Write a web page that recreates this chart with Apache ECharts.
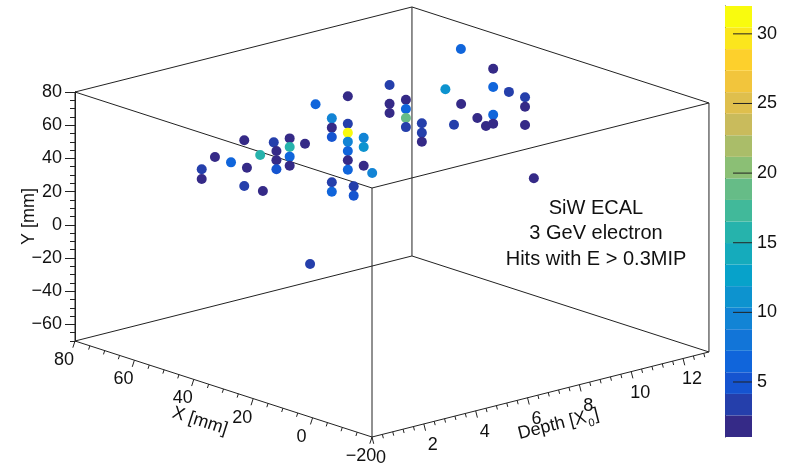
<!DOCTYPE html>
<html>
<head>
<meta charset="utf-8">
<script src="https://cdn.jsdelivr.net/npm/echarts@6/dist/echarts.min.js"></script>
<style>
  html, body { margin: 0; padding: 0; background: #fff; }
  #chart { width: 789px; height: 466px; }
</style>
</head>
<body>
<div id="chart"></div>
<script>
// hits: X [mm], Y [mm], depth [X0], energy [MIP]
const HIT_X = [41.7, 41.7, 41.6, 36.2, 36.1, 35.2, 36.1, 35.1, 34.2, 34.9, 34.0, 34.0, 34.0,
  33.9, 33.9, 33.9, 33.9, 33.1, 47.0, 32.8, 32.8, 32.8, 32.8, 32.8, 40.5, 40.5, 40.5, 40.5,
  40.5, 40.5, 40.5, 29.8, 29.8, 30.8, 30.8, 30.8, 32.3, 43.9, 43.9, 43.9, 38.4, 38.4, 38.4,
  38.4, 37.4, 37.4, 37.4, 54.8, 38.2, 32.9, 35.3, 31.8, 28.9, 35.2, 35.2, 35.2, 35.2, 29.9,
  33.2, 33.2, 33.2, 34.6, 18.3]
const HIT_Y = [53.6, 47.8, 59.1, 59.0, 70.4, 54.4, 42.8, 60.1, 39.0, 65.9, 61.2, 55.6, 50.2,
  66.9, 61.7, 55.9, 50.4, 62.2, 70.0, 73.7, 68.1, 62.5, 35.2, 29.5, 76.6, 60.1, 54.7, 49.3,
  43.7, 38.1, 32.4, 32.5, 26.9, 59.2, 53.6, 42.4, 35.2, 73.6, 62.3, 56.7, 67.9, 62.3, 56.9,
  51.4, 52.3, 46.6, 41.2, 73.2, 68.4, 62.6, 48.7, 52.8, 49.7, 76.6, 65.6, 48.9, 43.5, 65.7,
  56.6, 50.9, 39.9, 5.0, 4.2]
const HIT_D = [0.5, 0.5, 1.0, 1.0, 1.5, 1.5, 1.5, 2.0, 2.0, 2.5, 2.5, 2.5, 2.5,
  3.0, 3.0, 3.0, 3.0, 3.5, 5.5, 4.5, 4.5, 4.5, 4.5, 4.5, 6.0, 6.0, 6.0, 6.0,
  6.0, 6.0, 6.0, 5.0, 5.0, 5.5, 5.5, 5.5, 6.0, 8.0, 8.0, 8.0, 8.0, 8.0, 8.0,
  8.0, 8.5, 8.5, 8.5, 12.0, 9.5, 9.5, 9.5, 10.0, 10.0, 11.0, 11.0, 11.0, 11.0, 11.0,
  12.0, 12.0, 12.0, 12.5, 2.0]
const HIT_E = [3.5, 1.8, 1.9, 6.0, 1.8, 1.9, 4.0, 16.2, 1.7, 3.4, 1.8, 2.0, 5.2,
  1.8, 15.5, 6.6, 1.9, 1.8, 7.0, 9.2, 1.8, 5.0, 3.8, 6.4, 1.8, 3.6, 31.5, 9.6,
  7.0, 1.9, 6.2, 3.8, 5.6, 9.3, 11.0, 1.8, 10.0, 3.4, 2.4, 2.4, 1.8, 7.0, 18.8,
  3.4, 3.4, 4.0, 1.8, 7.0, 10.5, 1.8, 3.5, 1.8, 1.9, 1.8, 7.0, 7.0, 1.9, 4.0,
  3.4, 2.5, 1.8, 1.8, 3.0]

const X_RANGE = [-20, 80]
const Y_RANGE = [-70, 80]
const D_RANGE = [0, 13]
const X_TICKS = [-20, 0, 20, 40, 60, 80]
const Y_TICKS = [-60, -40, -20, 0, 20, 40, 60, 80]
const D_TICKS = [0, 2, 4, 6, 8, 10, 12]
const Z_TICKS = [5, 10, 15, 20, 25, 30]
const Z_MIN = 1.05
const Z_MAX = 32
const N_CONTOURS = 20
const INFO_LINES = ['SiW ECAL', '3 GeV electron', 'Hits with E > 0.3MIP']

// screen projection of the 3D box (parallel projection)
const ORIGIN = [372, 437] // X=-20, Y=-70, depth=0
const PX_X = [-2.97, -0.96] // per mm of X
const PX_D = [25.92, -6.54] // per X0 of depth
const PX_Y = -1.66 // per mm of Y

const FONT = '"Liberation Sans", Arial, Helvetica, sans-serif'
const INK = '#111'
const LINE = '#222'

function project(x, y, d) {
  const u = x - X_RANGE[0]
  const v = y - Y_RANGE[0]
  return [
    ORIGIN[0] + u * PX_X[0] + d * PX_D[0],
    ORIGIN[1] + u * PX_X[1] + d * PX_D[1] + v * PX_Y
  ]
}

// ROOT kBird palette
const BIRD_STOPS = [0, 0.125, 0.25, 0.375, 0.5, 0.625, 0.75, 0.875, 1]
const BIRD_R = [0.2082, 0.0592, 0.0780, 0.0232, 0.1802, 0.5301, 0.8186, 0.9956, 0.9764]
const BIRD_G = [0.1664, 0.3599, 0.5041, 0.6419, 0.7178, 0.7492, 0.7328, 0.7862, 0.9832]
const BIRD_B = [0.5293, 0.8684, 0.8385, 0.7914, 0.6425, 0.4662, 0.3499, 0.1968, 0.0539]

function birdColor(t) {
  let i = 0
  while (i < BIRD_STOPS.length - 2 && t > BIRD_STOPS[i + 1]) i++
  const f = (t - BIRD_STOPS[i]) / (BIRD_STOPS[i + 1] - BIRD_STOPS[i])
  const c = (arr) => Math.round(255 * (arr[i] + (arr[i + 1] - arr[i]) * f))
  return `rgb(${c(BIRD_R)},${c(BIRD_G)},${c(BIRD_B)})`
}

const bandWidth = (Z_MAX - Z_MIN) / N_CONTOURS
const bands = []
for (let i = 0; i < N_CONTOURS; i++) {
  bands.push({
    lo: Z_MIN + i * bandWidth,
    hi: Z_MIN + (i + 1) * bandWidth,
    color: birdColor(i / (N_CONTOURS - 1))
  })
}

const minus = (v) => String(v).replace('-', '\u2212')

function textEl(x, y, text, size) {
  return {
    type: 'text',
    x,
    y,
    style: {
      text,
      font: `${size}px ${FONT}`,
      fill: INK,
      align: 'center',
      verticalAlign: 'middle'
    }
  }
}

function renderFrame(params, api) {
  const els = []
  const at = (x, y, d) => api.coord(project(x, y, d))
  const seg = (a, b) => {
    els.push({
      type: 'line',
      shape: { x1: a[0], y1: a[1], x2: b[0], y2: b[1] },
      style: { stroke: LINE, lineWidth: 1 }
    })
  }
  // the 12 box edges
  for (const y of Y_RANGE) for (const d of D_RANGE) seg(at(X_RANGE[0], y, d), at(X_RANGE[1], y, d))
  for (const x of X_RANGE) for (const d of D_RANGE) seg(at(x, Y_RANGE[0], d), at(x, Y_RANGE[1], d))
  for (const x of X_RANGE) for (const y of Y_RANGE) seg(at(x, y, D_RANGE[0]), at(x, y, D_RANGE[1]))

  // X axis along the front bottom-left edge
  const xn = [-0.307, 0.951]
  for (let v = X_RANGE[0]; v <= X_RANGE[1]; v += 5) {
    const p = at(v, Y_RANGE[0], 0)
    const len = X_TICKS.includes(v) ? 7 : 4
    seg(p, [p[0] + xn[0] * len, p[1] + xn[1] * len])
  }
  X_TICKS.forEach((v) => {
    const p = at(v, Y_RANGE[0], 0)
    els.push(textEl(p[0] - 11, p[1] + 19, minus(v), 18))
  })

  // depth axis along the front bottom-right edge
  const dn = [0.245, 0.970]
  for (let i = 0; i * 0.4 <= D_RANGE[1]; i++) {
    const v = Math.round(i * 4) / 10
    const p = at(X_RANGE[0], Y_RANGE[0], v)
    const len = D_TICKS.includes(v) ? 7 : 4
    seg(p, [p[0] + dn[0] * len, p[1] + dn[1] * len])
  }
  D_TICKS.forEach((v) => {
    const p = at(X_RANGE[0], Y_RANGE[0], v)
    els.push(textEl(p[0] + 9, p[1] + 21, String(v), 18))
  })
  return { type: 'group', children: els }
}

function renderBand(params, api) {
  const lo = api.value(0)
  const hi = api.value(1)
  const a = api.coord([0, hi])
  const b = api.coord([1, lo])
  return {
    type: 'rect',
    shape: { x: a[0], y: a[1], width: b[0] - a[0], height: b[1] - a[1] },
    style: { fill: bands[params.dataIndex].color }
  }
}

// palette ticks drawn inward from the right edge of the colour bar
function renderZTick(params, api) {
  const p = api.coord([1, api.value(0)])
  return {
    type: 'line',
    shape: { x1: p[0] - 19, y1: p[1], x2: p[0], y2: p[1] },
    style: { stroke: LINE, lineWidth: 1 }
  }
}

const hitData = HIT_E.map((e, i) => [...project(HIT_X[i], HIT_Y[i], HIT_D[i]), e])

const yTop = project(X_RANGE[1], Y_RANGE[1], 0)
const yBottom = project(X_RANGE[1], Y_RANGE[0], 0)
const Y_MINOR = []
for (let v = Y_RANGE[0]; v <= Y_RANGE[1]; v += 5) Y_MINOR.push(v)

const chart = echarts.init(document.getElementById('chart'))
chart.setOption({
  animation: false,
  backgroundColor: '#fff',
  textStyle: { fontFamily: FONT },
  grid: [
    { left: 0, top: 0, width: 789, height: 466, outerBoundsMode: 'none' },
    { left: yTop[0], top: yTop[1], width: 10, height: yBottom[1] - yTop[1], outerBoundsMode: 'none' },
    { left: 725, top: 6, width: 27, height: 431, outerBoundsMode: 'none' }
  ],
  xAxis: [
    { gridIndex: 0, type: 'value', min: 0, max: 789, show: false },
    { gridIndex: 1, type: 'value', min: 0, max: 1, show: false },
    { gridIndex: 2, type: 'value', min: 0, max: 1, show: false }
  ],
  yAxis: [
    { gridIndex: 0, type: 'value', min: 0, max: 466, inverse: true, show: false },
    {
      gridIndex: 1,
      type: 'value',
      min: Y_RANGE[0],
      max: Y_RANGE[1],
      position: 'left',
      axisLine: { show: true, lineStyle: { color: LINE, width: 1 } },
      axisTick: { show: true, customValues: Y_TICKS, length: 10, lineStyle: { color: LINE } },
      axisLabel: {
        customValues: Y_TICKS,
        margin: 13,
        fontSize: 18,
        color: INK,
        fontFamily: FONT,
        formatter: minus
      },
      splitLine: { show: false },
      name: 'Y [mm]',
      nameLocation: 'middle',
      nameGap: 37,
      nameMoveOverlap: false,
      nameTextStyle: { fontSize: 18, color: INK, fontFamily: FONT }
    },
    {
      gridIndex: 1,
      type: 'value',
      min: Y_RANGE[0],
      max: Y_RANGE[1],
      position: 'left',
      axisLine: { show: false },
      axisTick: { show: true, customValues: Y_MINOR, length: 5, lineStyle: { color: LINE } },
      axisLabel: { show: false },
      splitLine: { show: false }
    },
    {
      gridIndex: 2,
      type: 'value',
      min: Z_MIN,
      max: Z_MAX,
      position: 'right',
      axisLine: { show: true, lineStyle: { color: LINE, width: 1 } },
      axisTick: { show: false },
      axisLabel: { customValues: Z_TICKS, margin: 5, fontSize: 18, color: INK, fontFamily: FONT },
      splitLine: { show: false }
    }
  ],
  visualMap: {
    type: 'piecewise',
    show: false,
    seriesIndex: 1,
    dimension: 2,
    pieces: bands.map((b) => ({ min: b.lo, max: b.hi, color: b.color }))
  },
  graphic: [
    { ...textEl(200, 421, 'X [mm]', 18), rotation: -0.313 },
    {
      type: 'group',
      x: 559,
      y: 424,
      rotation: 0.247,
      children: [
        { type: 'text', x: 28, y: 0, style: { text: 'Depth [X', font: `18px ${FONT}`, fill: INK, align: 'right', verticalAlign: 'middle' } },
        { type: 'text', x: 29, y: 7, style: { text: '0', font: `11px ${FONT}`, fill: INK, align: 'left', verticalAlign: 'middle' } },
        { type: 'text', x: 36, y: 0, style: { text: ']', font: `18px ${FONT}`, fill: INK, align: 'left', verticalAlign: 'middle' } }
      ]
    },
    ...INFO_LINES.map((t, i) => textEl(596, 208 + i * 25.5, t, 20))
  ],
  series: [
    {
      type: 'custom',
      xAxisIndex: 0,
      yAxisIndex: 0,
      silent: true,
      clip: false,
      z: 1,
      data: [[0, 0]],
      renderItem: renderFrame
    },
    {
      type: 'scatter',
      xAxisIndex: 0,
      yAxisIndex: 0,
      silent: true,
      z: 3,
      symbolSize: 10,
      itemStyle: { opacity: 1 },
      data: hitData
    },
    {
      type: 'custom',
      xAxisIndex: 2,
      yAxisIndex: 3,
      silent: true,
      z: 1,
      data: bands.map((b) => [b.lo, b.hi]),
      renderItem: renderBand
    },
    {
      type: 'custom',
      xAxisIndex: 2,
      yAxisIndex: 3,
      silent: true,
      z: 2,
      data: Z_TICKS.map((v) => [v]),
      renderItem: renderZTick
    }
  ]
})
</script>
</body>
</html>
